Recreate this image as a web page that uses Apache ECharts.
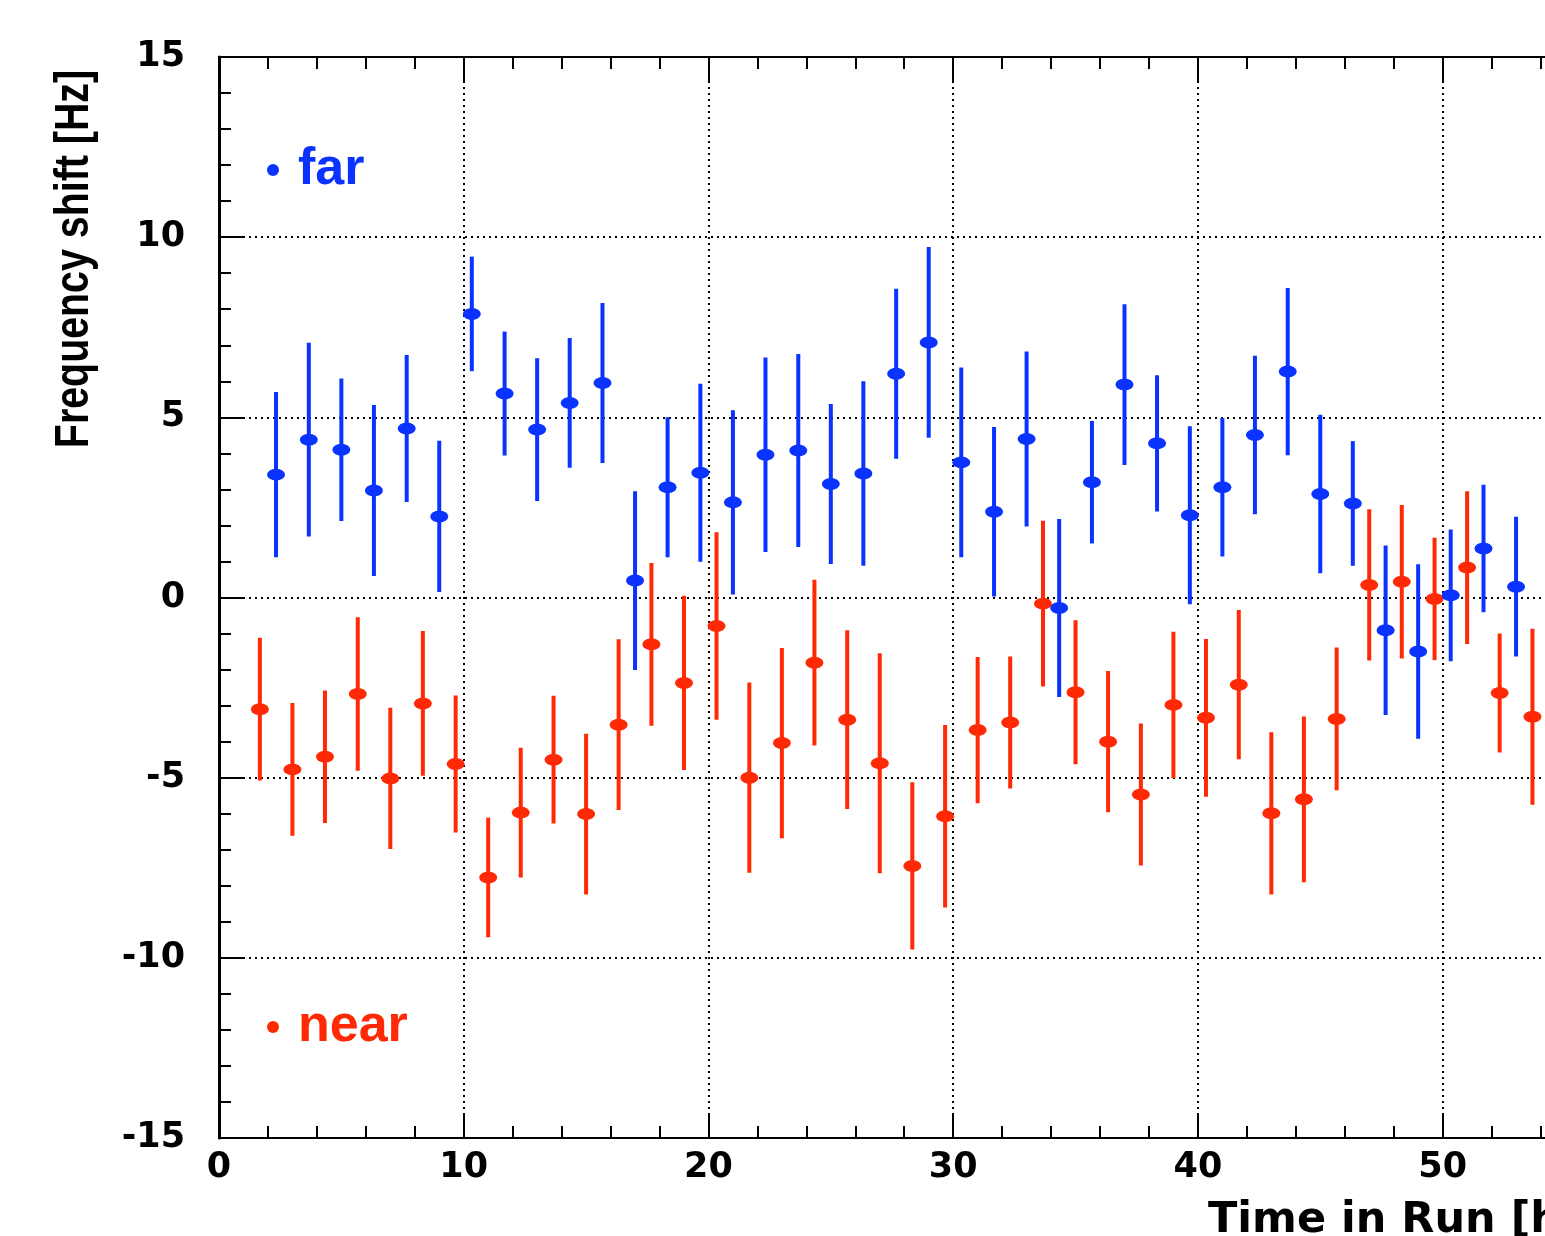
<!DOCTYPE html>
<html>
<head>
<meta charset="utf-8">
<script src="https://cdn.jsdelivr.net/npm/echarts@6/dist/echarts.min.js"></script>
<style>
html,body{margin:0;padding:0;background:#fff;overflow:hidden;}
#chart{width:1565px;height:1236px;}
</style>
</head>
<body>
<div id="chart"></div>
<script>
// ---- data ----
const farX = [2.33, 3.67, 5.0, 6.33, 7.67, 9.0, 10.33, 11.67, 13.0, 14.33, 15.67, 17.0, 18.33, 19.67, 21.0, 22.33, 23.67, 25.0, 26.33, 27.67, 29.0, 30.33, 31.67, 33.0, 34.33, 35.67, 37.0, 38.33, 39.67, 41.0, 42.33, 43.67, 45.0, 46.33, 47.67, 49.0, 50.33, 51.67, 53.0];
const farY = [3.41, 4.38, 4.10, 2.97, 4.69, 2.25, 7.87, 5.66, 4.66, 5.40, 5.95, 0.47, 3.06, 3.46, 2.64, 3.96, 4.08, 3.15, 3.44, 6.21, 7.08, 3.75, 2.38, 4.40, -0.29, 3.20, 5.91, 4.28, 2.28, 3.06, 4.51, 6.27, 2.87, 2.61, -0.91, -1.50, 0.06, 1.36, 0.30];
const farErr = [2.29, 2.69, 1.98, 2.37, 2.04, 2.10, 1.59, 1.72, 1.98, 1.80, 2.22, 2.48, 1.94, 2.47, 2.56, 2.70, 2.68, 2.22, 2.56, 2.36, 2.65, 2.63, 2.35, 2.43, 2.47, 1.70, 2.23, 1.89, 2.47, 1.92, 2.20, 2.32, 2.20, 1.73, 2.35, 2.42, 1.83, 1.77, 1.94];

const nearX = [1.67, 3.0, 4.33, 5.67, 7.0, 8.33, 9.67, 11.0, 12.33, 13.67, 15.0, 16.33, 17.67, 19.0, 20.33, 21.67, 23.0, 24.33, 25.67, 27.0, 28.33, 29.67, 31.0, 32.33, 33.67, 35.0, 36.33, 37.67, 39.0, 40.33, 41.67, 43.0, 44.33, 45.67, 47.0, 48.33, 49.67, 51.0, 52.33, 53.67];
const nearY = [-3.10, -4.77, -4.42, -2.68, -5.02, -2.94, -4.62, -7.77, -5.97, -4.50, -6.01, -3.53, -1.30, -2.37, -0.79, -5.00, -4.04, -1.81, -3.39, -4.60, -7.45, -6.07, -3.68, -3.47, -0.17, -2.63, -4.00, -5.47, -2.98, -3.34, -2.42, -5.99, -5.60, -3.37, 0.35, 0.44, -0.04, 0.83, -2.65, -3.31];
const nearErr = [1.98, 1.84, 1.84, 2.13, 1.96, 2.01, 1.90, 1.66, 1.80, 1.77, 2.23, 2.37, 2.26, 2.42, 2.60, 2.64, 2.64, 2.30, 2.48, 3.05, 2.32, 2.53, 2.03, 1.83, 2.30, 2.00, 1.96, 1.97, 2.03, 2.19, 2.07, 2.25, 2.30, 1.98, 2.10, 2.13, 1.70, 2.12, 1.65, 2.44];

const seriesNames = ['far', 'near'];
const xTitle = 'Time in Run [h]';
const yTitle = 'Frequency shift [Hz]';

const BLUE = '#0a33ff';
const RED = '#ff2a05';

function triples(xs, ys, es) { return xs.map((x, i) => [x, ys[i], es[i]]); }
const farData = triples(farX, farY, farErr);
const nearData = triples(nearX, nearY, nearErr);

function errBar(color) {
  return function (params, api) {
    const x = api.value(0), y = api.value(1), e = api.value(2);
    const p1 = api.coord([x, y - e]);
    const p2 = api.coord([x, y + e]);
    return {
      type: 'line',
      shape: { x1: p1[0], y1: p1[1], x2: p2[0], y2: p2[1] },
      style: { stroke: color, lineWidth: 4 }
    };
  };
}

const tickFont = { fontFamily: 'DejaVu Sans', fontWeight: 'bold', fontSize: 35, color: '#000' };
const dotted = { show: true, lineStyle: { color: '#000', width: 2, type: [2, 4] } };

const chart = echarts.init(document.getElementById('chart'), null, { renderer: 'canvas' });
chart.setOption({
  backgroundColor: '#fff',
  animation: false,
  grid: { left: 219, top: 57, bottom: 98, right: 0, show: true, borderColor: '#000', borderWidth: 2, containLabel: false },
  xAxis: [{
    type: 'value', min: 0, max: 55, interval: 10, position: 'bottom',
    axisLine: { show: true, onZero: false, lineStyle: { color: '#000', width: 2 } },
    axisTick: { show: true, inside: true, length: 25, lineStyle: { color: '#000', width: 2 } },
    minorTick: { show: true, splitNumber: 5, length: 12, lineStyle: { color: '#000', width: 2 } },
    axisLabel: Object.assign({ margin: 12, showMaxLabel: false }, tickFont),
    splitLine: dotted
  }, {
    type: 'value', min: 0, max: 55, interval: 10, position: 'top',
    axisLine: { show: true, onZero: false, lineStyle: { color: '#000', width: 2 } },
    axisTick: { show: true, inside: true, length: 25, lineStyle: { color: '#000', width: 2 } },
    minorTick: { show: true, splitNumber: 5, length: 12, lineStyle: { color: '#000', width: 2 } },
    axisLabel: { show: false },
    splitLine: { show: false }
  }],
  yAxis: {
    type: 'value', min: -15, max: 15, interval: 5,
    axisLine: { show: true, onZero: false, lineStyle: { color: '#000', width: 3 } },
    axisTick: { show: true, inside: true, length: 25, lineStyle: { color: '#000', width: 2 } },
    minorTick: { show: true, splitNumber: 5, length: 12, lineStyle: { color: '#000', width: 2 } },
    axisLabel: Object.assign({ margin: 34 }, tickFont),
    splitLine: dotted
  },
  legend: [{
    data: [seriesNames[0]], left: 262, top: 139, icon: 'circle', itemWidth: 12, itemHeight: 12,
    textStyle: { color: BLUE, fontFamily: 'Liberation Sans', fontWeight: 'bold', fontSize: 52, padding: [0, 0, 0, 14] },
    selectedMode: false
  }, {
    data: [seriesNames[1]], left: 262, top: 996, icon: 'circle', itemWidth: 12, itemHeight: 12,
    textStyle: { color: RED, fontFamily: 'Liberation Sans', fontWeight: 'bold', fontSize: 52, padding: [0, 0, 0, 14] },
    selectedMode: false
  }],
  graphic: [{
    type: 'text', left: 1208, top: 1199,
    style: { text: xTitle, font: 'bold 43px "DejaVu Sans"', fill: '#000' }
  }, {
    type: 'text', x: 75, y: 259, rotation: Math.PI / 2, scaleX: 0.82,
    style: { text: yTitle, font: 'bold 48px "Liberation Sans"', fill: '#000', align: 'center', verticalAlign: 'middle' }
  }],
  series: [{
    name: 'near-err', type: 'custom', renderItem: errBar(RED), data: nearData, z: 3, silent: true
  }, {
    name: seriesNames[1], type: 'scatter', data: nearData, symbol: 'circle', symbolSize: [18, 12],
    itemStyle: { color: RED, opacity: 1 }, z: 4
  }, {
    name: 'far-err', type: 'custom', renderItem: errBar(BLUE), data: farData, z: 5, silent: true
  }, {
    name: seriesNames[0], type: 'scatter', data: farData, symbol: 'circle', symbolSize: [18, 12],
    itemStyle: { color: BLUE, opacity: 1 }, z: 6
  }]
});
</script>
</body>
</html>
